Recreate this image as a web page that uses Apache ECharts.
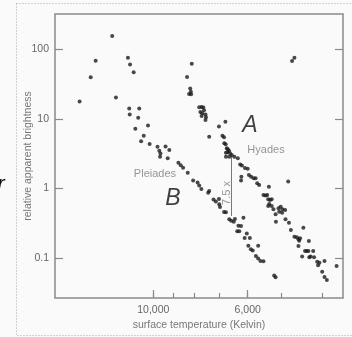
<!DOCTYPE html>
<html>
<head>
<meta charset="utf-8">
<script src="https://cdn.jsdelivr.net/npm/echarts@6/dist/echarts.min.js"></script>
<style>
  html, body { margin: 0; padding: 0; background: #fafafa; }
  #chart { width: 352px; height: 337px; }
</style>
</head>
<body>
<div id="chart"></div>
<script>
// [temperature K, relative brightness]
const pleiades = [
  [14900, 17.8], [14030, 39.7], [13660, 68.4], [12490, 156], [12240, 20.2],
  [11470, 75.9], [11340, 60.5], [11120, 46.9], [11390, 14.1], [11360, 11.5],
  [10790, 14.1], [10850, 10.4], [11020, 7.19], [10290, 8.02], [10530, 5.70],
  [10680, 4.75], [10200, 4.34], [9775, 3.97], [9680, 3.48], [9620, 3.17],
  [9640, 2.85], [9360, 4.00], [9170, 3.56], [9250, 2.70], [8730, 2.33],
  [8620, 2.14], [8510, 1.97], [8300, 1.67], [8060, 1.30], [7870, 1.21],
  [7800, 1.10], [7710, 0.977], [7430, 0.864], [7390, 0.914], [7220, 0.690],
  [7130, 0.646], [7010, 0.701], [7000, 0.590], [6970, 0.538], [6820, 0.456],
  [6750, 0.451], [6630, 0.358], [6560, 0.340], [6470, 0.331], [6430, 0.361],
  [6310, 0.289], [6220, 0.287], [6140, 0.377], [6350, 0.240], [6280, 0.240],
  [6030, 0.224], [6100, 0.193], [5930, 0.193], [5670, 0.149], [5980, 0.149],
  [5900, 0.133], [5840, 0.127], [5740, 0.106], [5670, 0.098], [5600, 0.090],
  [5510, 0.089], [5200, 0.0556], [5160, 0.0524]
];
const hyades = [
  [8120, 62.2], [8330, 40.0], [8190, 27.3], [8160, 24.6], [8240, 22.8],
  [8150, 22.5], [7800, 14.7], [7700, 14.8], [7630, 14.6], [7600, 13.3],
  [7750, 12.5], [7670, 12.0], [7540, 11.5], [7700, 11.0], [7520, 10.5],
  [7540, 9.62], [7390, 5.53], [7010, 7.75], [6770, 9.09], [6880, 5.72],
  [6820, 5.42], [6810, 4.44], [6760, 4.30], [6720, 3.77], [6680, 3.64],
  [6640, 3.48], [6750, 3.25], [6690, 3.30], [6600, 3.19], [6540, 3.02],
  [6750, 2.85], [6630, 2.85], [6450, 2.85], [6330, 2.70], [6250, 2.20],
  [6190, 2.13], [6090, 1.96], [6000, 1.91], [6210, 1.47], [6220, 1.30],
  [5960, 1.55], [5890, 1.47], [5810, 1.39], [5750, 1.39], [5700, 1.18],
  [5640, 1.12], [5350, 1.05], [4820, 1.25], [5510, 0.801], [5450, 0.788],
  [5400, 0.801], [5370, 0.694], [5320, 0.679], [5270, 0.694], [5340, 0.594],
  [5270, 0.556], [5370, 0.556], [5220, 0.499], [5160, 0.422], [5080, 0.515],
  [5020, 0.543], [4970, 0.499], [5060, 0.460], [4980, 0.445], [4900, 0.487],
  [5150, 0.331], [4890, 0.358], [4800, 0.320], [4750, 0.251], [4660, 0.201],
  [4600, 0.197], [4560, 0.185], [4540, 0.176], [4520, 0.191], [4560, 0.148],
  [4440, 0.271], [4310, 0.174], [4400, 0.125], [4360, 0.125], [4320, 0.125],
  [4210, 0.125], [4470, 0.104], [4300, 0.102], [4270, 0.104], [4190, 0.102],
  [4120, 0.088], [4070, 0.085], [4100, 0.078], [3960, 0.090], [4010, 0.063],
  [3960, 0.053], [3910, 0.048], [3710, 0.076], [4720, 68.0], [4660, 75.9]
];
// 7.5x gap between the two sequences
const ratioBar = [[6550, 0.4], [6550, 3.0]];
const notes = [
  [5930, 7.9, "A"],
  [8990, 0.70, "B"],
  [5435, 3.56, "Hyades"],
  [9910, 1.61, "Pleiades"],
  [6710, 0.856, "7.5 x"]
];
const xMajorTicks = [10000, 6000];
const xAllTicks = [10000, 9000, 8000, 7000, 6000, 5000, 4000];
const yTicks = [0.1, 1, 10, 100];
const xRange = [3583, 17020];
const yRange = [0.02636, 322.8];

const FONT = "'Liberation Sans', Arial, sans-serif";
const frameColor = "#8a8a8a";
const textGray = "#666";

const chart = echarts.init(document.getElementById("chart"));

const noteData = notes.map(([t, b, text]) => {
  const big = text.length === 1;
  const rot = text.startsWith("7.5");
  return {
    value: [t, b],
    name: text,
    label: {
      show: true,
      formatter: text,
      position: [0, 0],
      align: "center",
      verticalAlign: "middle",
      rotate: rot ? 90 : 0,
      fontFamily: FONT,
      fontSize: big ? 23 : 11,
      fontStyle: big ? "italic" : "normal",
      color: big ? "#111" : "#7a7a7a"
    }
  };
});

const fmtTemp = (v) => {
  const r = Math.round(v);
  return xMajorTicks.includes(r) ? r.toLocaleString("en-US") : "";
};

const xBase = {
  type: "log",
  inverse: true,
  min: xRange[0],
  max: xRange[1],
  position: "bottom",
  axisLine: { show: false },
  splitLine: { show: false },
  minorTick: { show: false }
};
const yBase = {
  type: "log",
  min: yRange[0],
  max: yRange[1],
  axisLine: { show: false },
  splitLine: { show: false },
  minorTick: { show: false }
};

chart.setOption({
  backgroundColor: "#fafafa",
  animation: false,
  grid: {
    left: 55, top: 14, right: 9, bottom: 39,
    show: true,
    borderColor: frameColor,
    borderWidth: 1.5,
    backgroundColor: "#fafafa",
    outerBoundsMode: "none"
  },
  xAxis: [
    Object.assign({}, xBase, {
      axisTick: { inside: true, length: 5, customValues: xAllTicks, lineStyle: { color: frameColor, width: 1.2 } },
      axisLabel: {
        customValues: xAllTicks,
        formatter: fmtTemp,
        color: textGray, fontSize: 10.5, fontFamily: FONT, margin: 7
      },
      name: "surface temperature (Kelvin)",
      nameLocation: "middle",
      nameGap: 22,
      nameMoveOverlap: false,
      nameTextStyle: { color: "#777", fontSize: 10.5, fontFamily: FONT }
    }),
    Object.assign({}, xBase, {
      axisTick: { inside: true, length: 8, customValues: xMajorTicks, lineStyle: { color: frameColor, width: 1.2 } },
      axisLabel: { customValues: xMajorTicks, formatter: () => "", margin: 7 }
    })
  ],
  yAxis: [
    Object.assign({}, yBase, {
      position: "left",
      axisTick: { inside: true, length: 8, customValues: yTicks, lineStyle: { color: frameColor, width: 1.2 } },
      axisLabel: {
        customValues: yTicks,
        formatter: (v) => (v < 1 ? v.toFixed(1) : String(Math.round(v))),
        color: textGray, fontSize: 10.5, fontFamily: FONT, margin: 6
      },
      name: "relative apparent brightness",
      nameLocation: "middle",
      nameGap: 21,
      nameMoveOverlap: false,
      nameTextStyle: { color: "#777", fontSize: 10.5, fontFamily: FONT }
    }),
    Object.assign({}, yBase, {
      position: "right",
      axisTick: { inside: true, length: 8, customValues: yTicks, lineStyle: { color: frameColor, width: 1.2 } },
      axisLabel: { customValues: yTicks, formatter: () => "" }
    })
  ],
  series: [
    {
      type: "line",
      data: ratioBar,
      symbol: "none",
      lineStyle: { color: "#777", width: 1 },
      silent: true,
      z: 2
    },
    {
      name: "Pleiades",
      type: "scatter",
      data: pleiades,
      symbolSize: 4,
      itemStyle: { color: "#1c1c1c" },
      z: 3
    },
    {
      name: "Hyades",
      type: "scatter",
      data: hyades,
      symbolSize: 4,
      itemStyle: { color: "#1c1c1c" },
      z: 3
    },
    {
      type: "scatter",
      data: noteData,
      symbolSize: 0,
      silent: true,
      z: 4
    }
  ],
  graphic: [
    {
      type: "rect",
      shape: { x: 16.5, y: 3.5, width: 360, height: 332 },
      style: { fill: null, stroke: "#aaa", lineWidth: 1, lineDash: [1, 2] },
      silent: true
    },
    {
      type: "text",
      left: -3, top: 174,
      style: { text: "r", font: "italic 23px " + FONT, fill: "#111" },
      silent: true
    }
  ]
});
</script>
</body>
</html>
